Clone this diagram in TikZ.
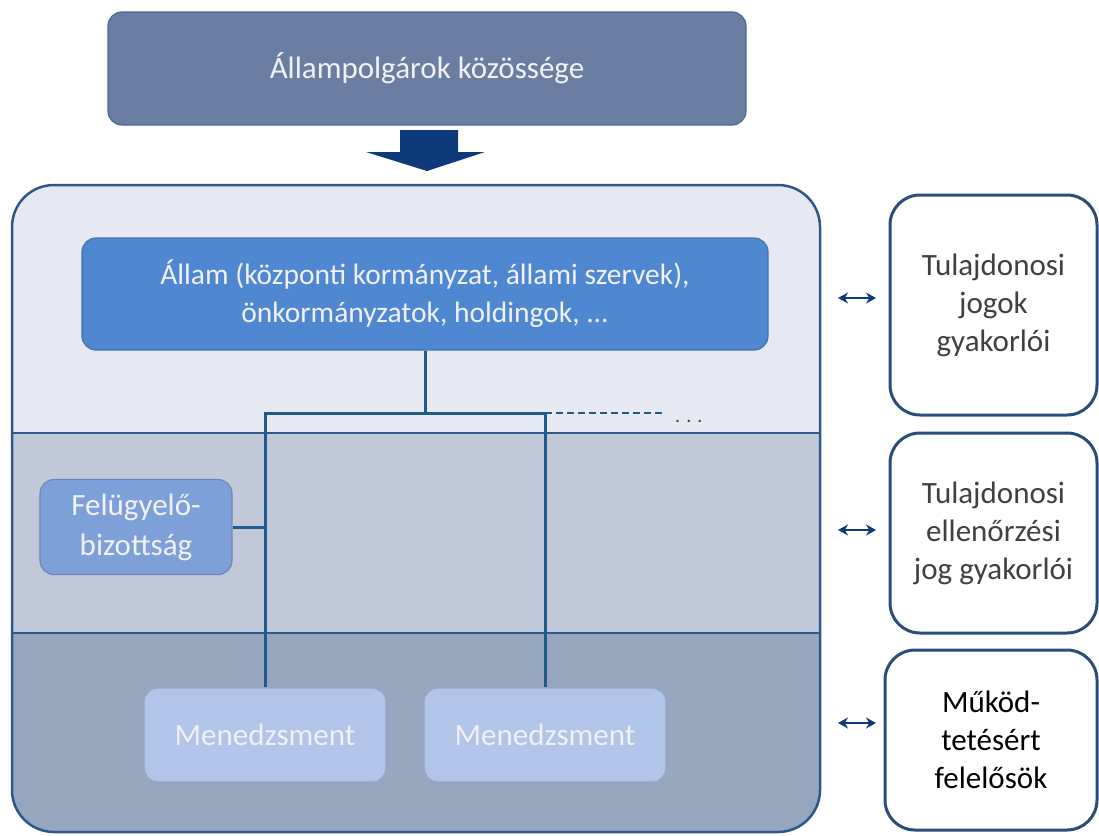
\documentclass[tikz,border=0pt]{standalone}
\usepackage{fontspec}
\setmainfont{Carlito}
\usepackage{tikz}
\usetikzlibrary{positioning, arrows.meta}

\definecolor{polgar}{HTML}{6A7EA1}
\definecolor{polgarkeret}{HTML}{4D6796}
\definecolor{sotetkek}{HTML}{0E3A7C}
\definecolor{sav1}{HTML}{E6E9F1}
\definecolor{sav2}{HTML}{C1C9D8}
\definecolor{sav3}{HTML}{96A6BD}
\definecolor{savkeret}{HTML}{2F5889}
\definecolor{allamkek}{HTML}{5087D1}
\definecolor{fbkek}{HTML}{7EA0D8}
\definecolor{menkek}{HTML}{B0C5E8}
\definecolor{vonalkek}{HTML}{1F5A8A}
\definecolor{keret}{HTML}{2A4D7A}
\definecolor{szoveg}{HTML}{404040}
\definecolor{feher}{HTML}{F0F2F7}

\begin{document}
\begin{tikzpicture}[x=1pt, y=-1pt,
    felirat/.style={font=\fontsize{31}{38}\selectfont, align=center},
    kekdoboz/.style={felirat, rounded corners=14pt, text=feher, line width=1.2pt, inner sep=0pt},
    jobbdoboz/.style={felirat, draw=keret, fill=white, rounded corners=30pt, line width=3pt, text=szoveg, inner sep=0pt},
    vonal/.style={draw=vonalkek, line width=3pt},
    nyil/.style={{Stealth[length=10pt,width=11pt]}-{Stealth[length=10pt,width=11pt]}, line width=2.2pt, draw=sotetkek}
  ]
  \clip (0,0) rectangle (1099,835);

  % savok
  \begin{scope}
    \clip[rounded corners=42pt] (12,185) rectangle (820,832);
    \fill[sav1] (12,185) rectangle (820,433);
    \fill[sav2] (12,433) rectangle (820,633);
    \fill[sav3] (12,633) rectangle (820,832);
  \end{scope}
  \draw[savkeret, line width=2.5pt, rounded corners=42pt] (12,185) rectangle (820,832);
  \draw[savkeret, line width=2.5pt] (12,433) -- (820,433) (12,633) -- (820,633);

  % felso doboz es nyil
  \node[kekdoboz, fill=polgar, draw=polgarkeret, minimum width=638pt, minimum height=113pt] (polg) at (427,68.5) {Állampolgárok közössége};
  \fill[sotetkek] (400,130) -- (458,130) -- (458,152) -- (485,152) -- (427,171) -- (366,152) -- (400,152) -- cycle;

  % szervezet
  \node[kekdoboz, fill=allamkek, draw=allamkek!85!black, minimum width=686pt, minimum height=112pt, font=\fontsize{29.5}{38}\selectfont] (allam) at (425,294)
    {Állam (központi kormányzat, állami szervek),\\ önkormányzatok, holdingok, ...};
  \node[kekdoboz, fill=fbkek, draw=fbkek!85!black, minimum width=192pt, minimum height=95pt, font=\fontsize{31}{40}\selectfont] (fb) at (136,527) {Felügyelő-\\bizottság};
  \node[kekdoboz, fill=menkek, draw=menkek!85!black, minimum width=242pt, minimum height=94pt] (men1) at (265,735) {Menedzsment};
  \node[kekdoboz, fill=menkek, draw=menkek!85!black, minimum width=242pt, minimum height=94pt] (men2) at (545,735) {Menedzsment};

  \coordinate (elag) at (allam.south |- 0,413);
  \draw[vonal] (allam.south) -- (elag);
  \draw[vonal] (men1.north) |- (elag) -| (men2.north);
  \draw[vonal] (fb.east) -- (fb.east -| men1.north);
  \draw[vonal, line width=2pt, dash pattern=on 7pt off 4pt] (men2.north |- elag) -- ++(120,0) coordinate (szagg);
  \node[text=szoveg, font=\fontsize{20}{20}\selectfont, anchor=west, inner sep=0pt] (pontok) at ([xshift=10pt, yshift=-8pt]szagg) {. . .};

  % jobb oldali dobozok
  \node[jobbdoboz, minimum width=207pt, minimum height=220pt] (jog1) at (993.5,305) {Tulajdonosi\\jogok\\gyakorlói};
  \node[jobbdoboz, minimum width=207pt, minimum height=200pt] (jog2) at (993.5,533) {Tulajdonosi\\ellenőrzési\\jog gyakorlói};
  \node[jobbdoboz, minimum width=212pt, minimum height=180pt, text=black] (jog3) at (991,740) {Működ-\\tetésért\\felelősök};

  \foreach \y in {298,530,723}
    \draw[nyil] (838,\y) -- (876,\y);
\end{tikzpicture}
\end{document}
